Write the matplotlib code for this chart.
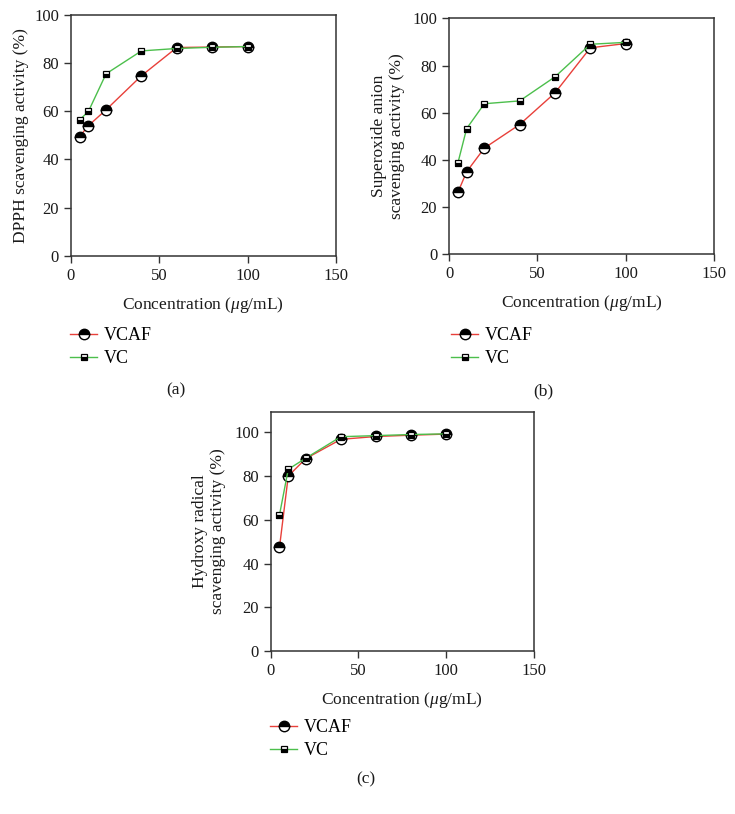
import matplotlib
matplotlib.use("Agg")
import matplotlib.pyplot as plt

plt.rcParams['font.family'] = ['Liberation Serif', 'DejaVu Serif']
plt.rcParams['mathtext.fontset'] = 'custom'
plt.rcParams['mathtext.rm'] = 'Liberation Serif'
plt.rcParams['mathtext.it'] = 'Liberation Serif:italic'

conc = [5, 10, 20, 40, 60, 80, 100]

dpph_vcaf = [49.5, 54.0, 60.6, 74.7, 86.4, 86.6, 86.8]
dpph_vc = [56.4, 59.9, 75.5, 85.0, 86.0, 86.5, 86.8]

sup_vcaf = [26.2, 35.0, 45.0, 55.0, 68.4, 87.5, 89.3]
sup_vc = [38.6, 53.3, 63.8, 65.0, 75.2, 89.0, 89.8]

hyd_vcaf = [47.4, 80.0, 88.0, 96.8, 98.1, 98.7, 99.2]
hyd_vc = [62.2, 83.1, 88.2, 98.0, 98.5, 99.0, 99.3]

series_names = ['VCAF', 'VC']
x_ticks = [0, 50, 100, 150]
xlabel = r'Concentration ($\mathit{\mu}$g/mL)'

W, H = 735, 814
fig = plt.figure(figsize=(W / 100, H / 100), dpi=100)

def ax_at(x0, y0, x1, y1):
    return fig.add_axes([x0 / W, 1 - y1 / H, (x1 - x0) / W, (y1 - y0) / H])

panels = [
    dict(box=(70.7, 14.7, 336, 256), ylim=(0, 100), yl='DPPH scavenging activity (%)', lx=-0.158,
         vcaf=dpph_vcaf, vc=dpph_vc, leg=(70, 327), tag='(a)', tagxy=(176, 390)),
    dict(box=(449, 18.3, 714, 254.3), ylim=(0, 100), yl='Superoxide anion\nscavenging activity (%)', lx=-0.165,
         vcaf=sup_vcaf, vc=sup_vc, leg=(451, 327), tag='(b)', tagxy=(543, 391)),
    dict(box=(270.7, 412, 534, 651), ylim=(0, 109.3), yl='Hydroxy radical\nscavenging activity (%)', lx=-0.17,
         vcaf=hyd_vcaf, vc=hyd_vc, leg=(270, 719), tag='(c)', tagxy=(366, 779)),
]

red = '#e8403a'
green = '#4cbf4c'
spine_col = '#333333'
txt = '#1a1a1a'

for p in panels:
    ax = ax_at(*p['box'])
    ax.plot(conc, p['vcaf'], color=red, lw=1.0, marker='o', ms=7.5, fillstyle='top',
            markerfacecolor='black', markerfacecoloralt='white', markeredgecolor='black',
            markeredgewidth=1.0, label=series_names[0], zorder=3)
    ax.plot(conc, p['vc'], color=green, lw=1.0, marker='s', ms=4.8, fillstyle='bottom',
            markerfacecolor='black', markerfacecoloralt='white', markeredgecolor='black',
            markeredgewidth=0.9, label=series_names[1], zorder=4)
    ax.set_xlim(0, 150)
    ax.set_ylim(*p['ylim'])
    ax.set_xticks(x_ticks)
    ax.set_yticks([0, 20, 40, 60, 80, 100])
    for s in ax.spines.values():
        s.set_color(spine_col)
        s.set_linewidth(1.1)
    ax.tick_params(direction='out', length=5, width=1, colors=spine_col, labelcolor=txt,
                   labelsize=12, pad=3.5)
    ax.tick_params(axis='x', pad=3.5)
    ax.set_xlabel(xlabel, fontsize=12.5, color=txt, labelpad=8)
    ax.set_ylabel(p['yl'], fontsize=12.5, color=txt, linespacing=1.2)
    ax.yaxis.set_label_coords(p['lx'], 0.5)
    lx, ly = p['leg']
    ax.legend(loc='upper left', bbox_to_anchor=(lx / W, 1 - ly / H), bbox_transform=fig.transFigure,
              frameon=False, fontsize=13, handlelength=1.5, handletextpad=0.35, labelspacing=0.35,
              borderaxespad=0, borderpad=0)
    tx, ty = p['tagxy']
    fig.text(tx / W, 1 - ty / H, p['tag'], ha='center', va='center', fontsize=12.5, color=txt)

fig.savefig('out.png', dpi=100)
